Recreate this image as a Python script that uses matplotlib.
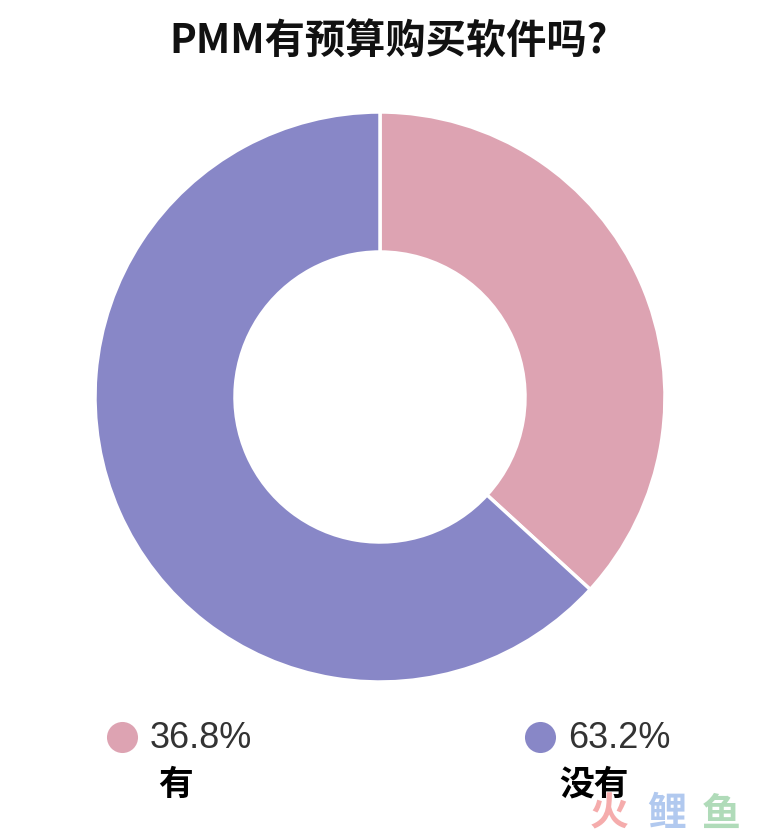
import matplotlib
matplotlib.use("Agg")
import matplotlib.pyplot as plt

plt.rcParams['font.family'] = ['Noto Sans CJK SC', 'DejaVu Sans']

title = "PMM有预算购买软件吗?"
labels = ["有", "没有"]
values = [36.8, 63.2]
colors = ["#DDA3B2", "#8887C7"]

W, H = 765, 837
fig = plt.figure(figsize=(W / 100, H / 100), dpi=100)
ax = fig.add_axes([0, 0, 1, 1])


def Y(py):
    return H - py


cx, cy, R, ring = 380, 398, 285, 140
ax.pie(values, colors=colors, startangle=90, counterclock=False,
       center=(cx, Y(cy)), radius=R, frame=True,
       wedgeprops=dict(width=ring, edgecolor='white', linewidth=2.5))
ax.set_xlim(0, W)
ax.set_ylim(0, H)
ax.set_aspect('equal')
ax.axis('off')

ax.text(389, Y(42), title, ha='center', va='center', fontsize=29,
        fontweight='black', color='#111111')

leg_x = [122, 540]
for i, (lab, val, col) in enumerate(zip(labels, values, colors)):
    x = leg_x[i]
    ax.scatter([x], [Y(738)], s=500, color=col, zorder=3, linewidths=0)
    ax.text(x + 28, Y(739), f"{val:.1f}%", ha='left', va='center',
            fontsize=26, color='#333333', family=['Liberation Sans', 'DejaVu Sans'])
    ax.text(x + 54, Y(784), lab, ha='center', va='center', fontsize=25,
            fontweight='black', color='#000000')

# watermark
wm = [("火", "#F4A3A3", 609), ("鲤", "#A9C3EE", 667), ("鱼", "#A8D8B2", 721)]
for ch, c, x in wm:
    ax.text(x, Y(814), ch, ha='center', va='center', fontsize=28,
            fontweight='black', color=c, alpha=0.9)

fig.savefig("out.png", dpi=100)
